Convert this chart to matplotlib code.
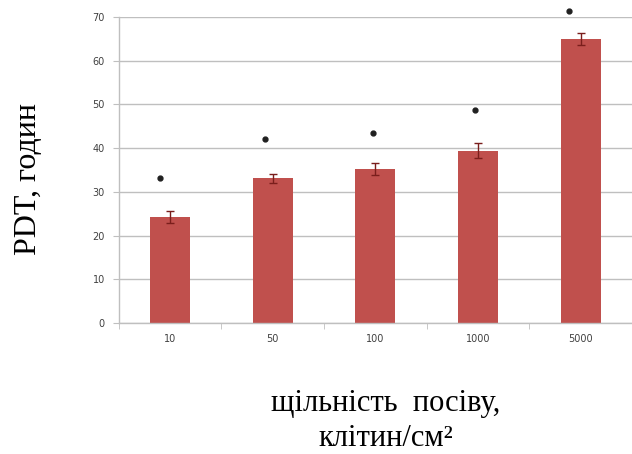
import numpy as np
import matplotlib.pyplot as plt
from matplotlib.ticker import FixedLocator

# Data
categories = ['10', '50', '100', '1000', '5000']
pdt_hours = [24.2, 33.1, 35.2, 39.4, 65.0]
pdt_err = [1.4, 1.1, 1.4, 1.7, 1.4]
star_y = [33.1, 42.1, 43.5, 48.8, 71.4]
star_dx = [-0.10, -0.08, -0.02, -0.03, -0.11]

bar_color = '#C0504D'
err_color = '#7A1E1C'
grid_color = '#BFBFBF'
tick_color = '#404040'

fig = plt.figure(figsize=(6.32, 4.54), dpi=100)
ax = fig.add_axes([0.188, 0.2885, 0.812, 0.674])

x = np.arange(len(categories))
ax.bar(x, pdt_hours, width=0.39, color=bar_color, zorder=2)
ax.errorbar(x, pdt_hours, yerr=pdt_err, fmt='none', ecolor=err_color,
            elinewidth=1.0, capsize=3, capthick=1.0, zorder=3)
ax.plot(x + np.array(star_dx), star_y, linestyle='none', marker='o',
        markersize=3.5, color='#202020', clip_on=False, zorder=4)

ax.set_xlim(-0.5, len(categories) - 0.5)
ax.set_ylim(0, 70)
ax.set_yticks(np.arange(0, 71, 10))
ax.yaxis.grid(True, color=grid_color, linewidth=1.0, zorder=0)
ax.set_axisbelow(True)

ax.set_xticks(x)
ax.set_xticklabels(categories)
ax.xaxis.set_minor_locator(FixedLocator(np.arange(-0.5, len(categories), 1.0)))
ax.tick_params(axis='x', which='major', length=0, labelsize=7,
               labelcolor=tick_color, pad=8)
ax.tick_params(axis='x', which='minor', length=4, color=grid_color, direction='out')
ax.tick_params(axis='y', length=4, color=grid_color, labelsize=7,
               labelcolor=tick_color, pad=6)

for side in ['top', 'right']:
    ax.spines[side].set_visible(False)
for side in ['left', 'bottom']:
    ax.spines[side].set_color(grid_color)
    ax.spines[side].set_linewidth(1.0)

serif = ['Liberation Serif', 'DejaVu Serif']
fig.text(0.045, 0.606, 'PDT, годин', rotation=90, ha='center', va='center',
         fontsize=23, family=serif)
fig.text(0.61, 0.073, 'щільність  посіву,\nклітин/см²', ha='center',
         va='center', fontsize=22, family=serif, linespacing=1.3)

fig.savefig('out.png', dpi=100)
